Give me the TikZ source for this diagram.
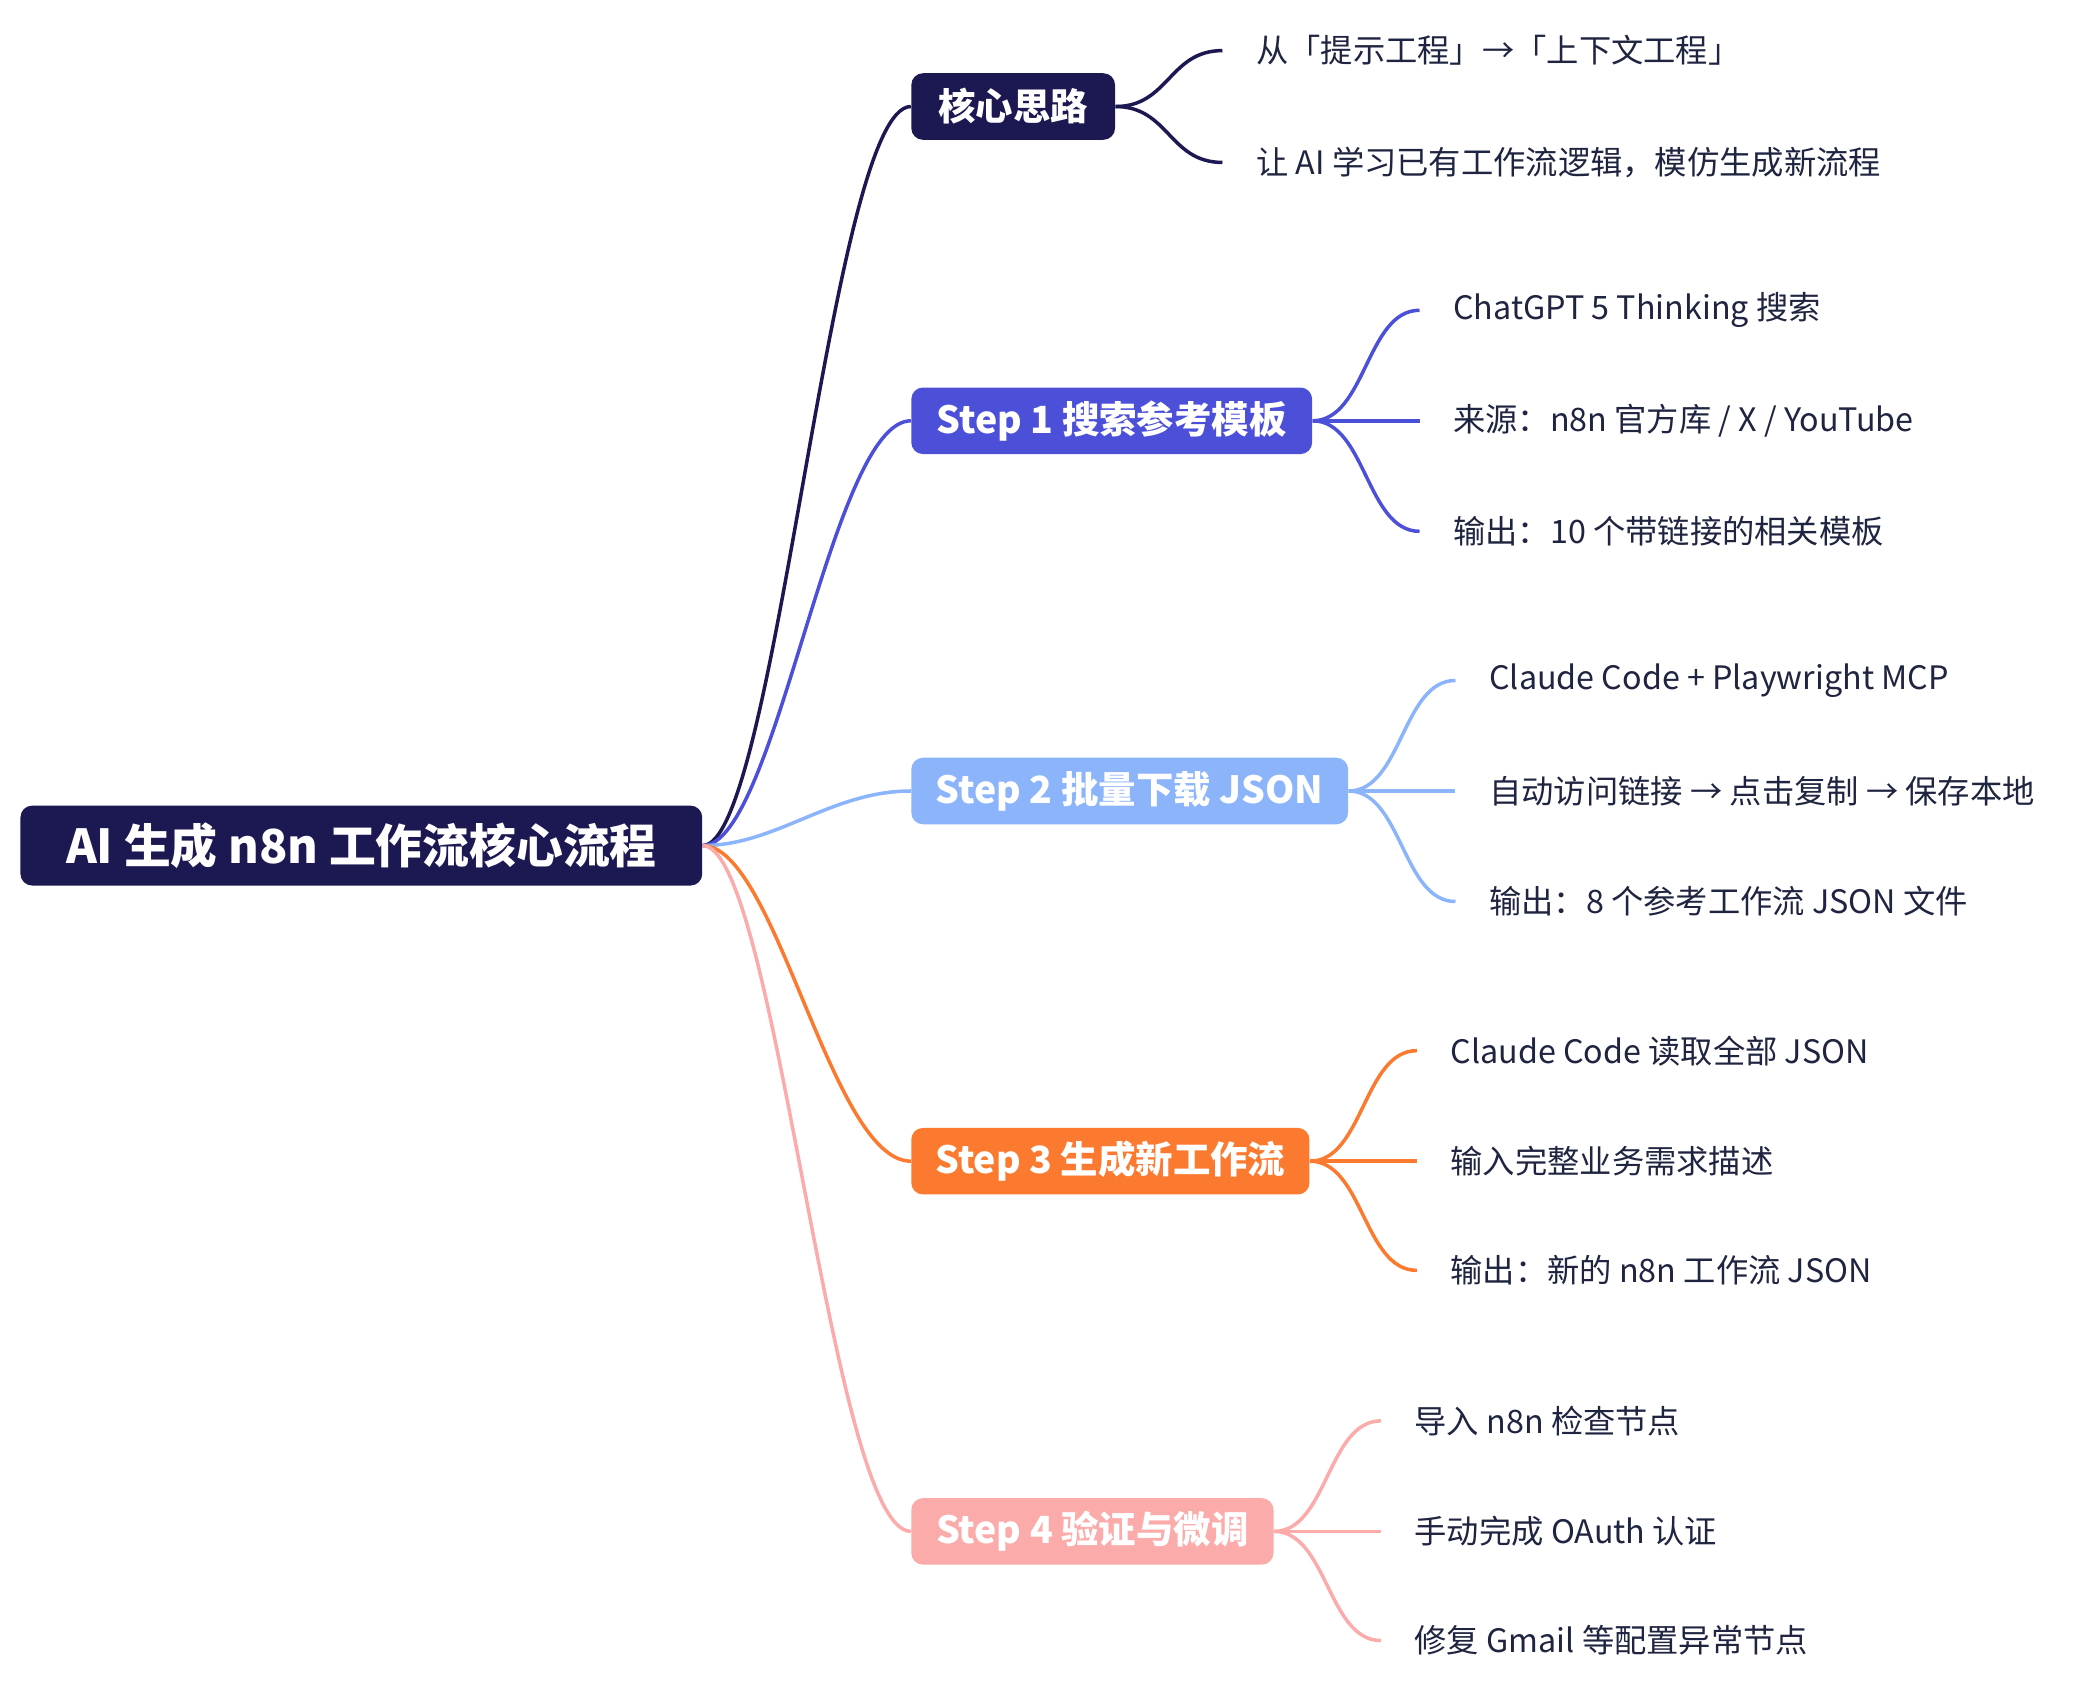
\documentclass[tikz,border=0pt]{standalone}
\usepackage{fontspec}
\setmainfont{Noto Sans CJK SC}
\definecolor{navy}{HTML}{1C1852}
\definecolor{txt}{HTML}{1F2440}
\definecolor{sa}{HTML}{4C50D9}
\definecolor{sb}{HTML}{8CB4FB}
\definecolor{sc}{HTML}{FB7A30}
\definecolor{sd}{HTML}{FCABAB}
\begin{document}
\begin{tikzpicture}[x=0.02cm,y=-0.02cm,
  box/.style={rounded corners=5pt,text=white,font=\bfseries\fontsize{16}{18}\selectfont,inner sep=0pt,minimum height=50*0.02cm,anchor=west},
  leaf/.style={anchor=west,text=txt,font=\fontsize{13.8}{16}\selectfont,inner xsep=25*0.02cm,inner ysep=0pt},
  br/.style={line width=1.5pt}]
\useasboundingbox (0,0) rectangle (1568,1270);
\node[box,fill=navy,minimum width=512*0.02cm,minimum height=60*0.02cm,font=\bfseries\fontsize{20}{24}\selectfont] (root) at (15,635) {AI 生成 n8n 工作流核心流程};
\node[box,fill=navy,minimum width=153*0.02cm] (k) at (684,80) {核心思路};
\node[box,fill=sa,minimum width=301*0.02cm] (s1) at (684,316) {Step 1 搜索参考模板};
\node[box,fill=sb,minimum width=328*0.02cm] (s2) at (684,594) {Step 2 批量下载 JSON};
\node[box,fill=sc,minimum width=299*0.02cm] (s3) at (684,872) {Step 3 生成新工作流};
\node[box,fill=sd,minimum width=272*0.02cm] (s4) at (684,1150) {Step 4 验证与微调};
\foreach \n/\c in {k/navy,s1/sa,s2/sb,s3/sc,s4/sd}
  \draw[br,\c] (root.east) .. controls +(55,0) and +(-60,0) .. (\n.west);
\node[leaf] (k1) at (918,38) {从「提示工程」→「上下文工程」};
\node[leaf] (k2) at (918,122) {让 AI 学习已有工作流逻辑，模仿生成新流程};
\node[leaf] (a1) at (1066,233) {ChatGPT 5 Thinking 搜索};
\node[leaf] (a2) at (1066,316) {来源：n8n 官方库 / X / YouTube};
\node[leaf] (a3) at (1066,399) {输出：10 个带链接的相关模板};
\node[leaf] (b1) at (1093,511) {Claude Code + Playwright MCP};
\node[leaf] (b2) at (1093,594) {自动访问链接 → 点击复制 → 保存本地};
\node[leaf] (b3) at (1093,677) {输出：8 个参考工作流 JSON 文件};
\node[leaf] (c1) at (1064,789) {Claude Code 读取全部 JSON};
\node[leaf] (c2) at (1064,872) {输入完整业务需求描述};
\node[leaf] (c3) at (1064,954) {输出：新的 n8n 工作流 JSON};
\node[leaf] (d1) at (1037,1067) {导入 n8n 检查节点};
\node[leaf] (d2) at (1037,1150) {手动完成 OAuth 认证};
\node[leaf] (d3) at (1037,1232) {修复 Gmail 等配置异常节点};
\foreach \p/\l/\c in {k/k1/navy,k/k2/navy,s1/a1/sa,s1/a2/sa,s1/a3/sa,s2/b1/sb,s2/b2/sb,s2/b3/sb,s3/c1/sc,s3/c2/sc,s3/c3/sc,s4/d1/sd,s4/d2/sd,s4/d3/sd}
  \draw[br,\c] (\p.east) .. controls +(40,0) and +(-40,0) .. (\l.west);
\end{tikzpicture}
\end{document}
